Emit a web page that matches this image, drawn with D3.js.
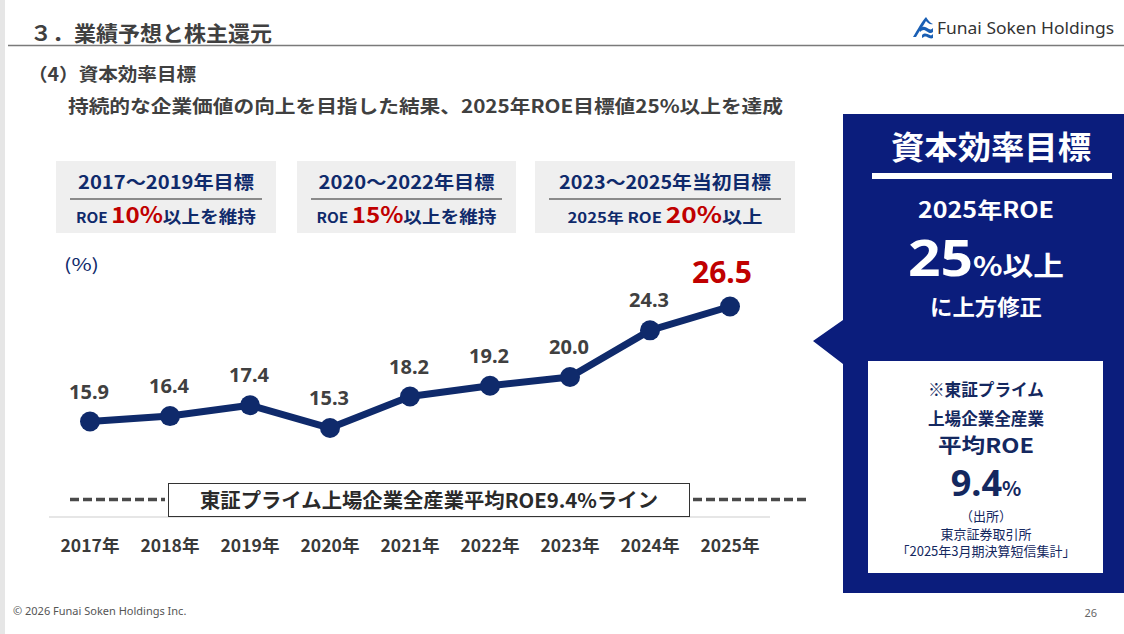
<!DOCTYPE html>
<html><head><meta charset="utf-8">
<script src="https://cdn.jsdelivr.net/npm/d3@7/dist/d3.min.js"></script>
<style>
html,body{margin:0;padding:0;background:#fff;}
svg{display:block;font-family:"Noto Sans CJK JP","Noto Sans",sans-serif;}
</style></head><body>
<svg id="c" width="1124" height="634"></svg>
<script>
// ---- data ----
const years = ["2017年","2018年","2019年","2020年","2021年","2022年","2023年","2024年","2025年"];
const roe = [15.9,16.4,17.4,15.3,18.2,19.2,20.0,24.3,26.5];
const avgRoe = 9.4;
const targetTitles = ["2017～2019年目標","2020～2022年目標","2023～2025年当初目標"];
const targetPrefix = ["ROE ","ROE ","2025年  ROE "];
const targetValues = ["10%","15%","20%"];
const targetSuffix = ["以上を維持","以上を維持","以上"];

const svg = d3.select("#c");
const NAVY = "#0f2a6b", PANEL = "#0b1d7c", RED = "#c00000", DARK = "#404040", BOXNAVY = "#14285f";

function txt(g, o){
  const t = g.append("text").attr("x",o.x).attr("y",o.y).attr("font-size",o.s)
    .attr("font-weight",o.w||700).attr("fill",o.c||DARK).attr("text-anchor",o.a||"start").text(o.t);
  if(o.len){ t.attr("textLength",o.len).attr("lengthAdjust","spacingAndGlyphs"); }
  if(o.f){ t.attr("font-family",o.f); }
  return t;
}

// left strip
svg.append("rect").attr("x",0).attr("y",0).attr("width",5).attr("height",634).attr("fill","#e6e6e6");

// header
txt(svg,{x:30,y:41,s:21,t:"３．業績予想と株主還元",len:242});
svg.append("line").attr("x1",8).attr("x2",1124).attr("y1",45.5).attr("y2",45.5).attr("stroke","#7a7a7a").attr("stroke-width",1.6);

// logo
const lg = svg.append("g").attr("transform","translate(913,16)");
lg.append("path").attr("d","M0,21 C5,13 9,5 13,1 C15,4 17,7 20,8 C17,9 15,7 13,5 C10,10 6,16 3,21 Z").attr("fill","#1a5fb4");
lg.append("path").attr("d","M7,13 C10,9 13,11 16,13 C18,14 19,13 20,12 L20,16 C18,18 16,17 13,15 C11,13 9,14 7,16 Z").attr("fill","#1a5fb4");
lg.append("path").attr("d","M9,19 C12,16 14,18 17,19 C18,20 19,19 20,18 L20,22 C18,23 16,22 14,21 C12,20 11,21 9,22 Z").attr("fill","#1a5fb4");
txt(svg,{x:937,y:34,s:17,w:400,c:"#333",t:"Funai Soken Holdings",len:177,f:"'Noto Sans',sans-serif"});

// subtitle
txt(svg,{x:28,y:81,s:18,t:"（4）資本効率目標",len:168});
txt(svg,{x:68,y:113,s:18,t:"持続的な企業価値の向上を目指した結果、2025年ROE目標値25%以上を達成",len:715});

// target boxes
const boxes = [{x:56,w:220,tl:176,l2:180},{x:297,w:219,tl:176,l2:180},{x:535,w:260,tl:212,l2:195}];
boxes.forEach((b,i)=>{
  const g = svg.append("g");
  g.append("rect").attr("x",b.x).attr("y",161).attr("width",b.w).attr("height",72).attr("fill","#efefef");
  txt(g,{x:b.x+b.w/2,y:189,s:18,a:"middle",c:NAVY,t:targetTitles[i],len:b.tl});
  g.append("line").attr("x1",b.x+14).attr("x2",b.x+b.w-14).attr("y1",199).attr("y2",199).attr("stroke","#8a8a8a").attr("stroke-width",2);
  const t = g.append("text").attr("x",b.x+b.w/2).attr("y",223).attr("text-anchor","middle").attr("font-weight",700).attr("fill",NAVY)
    .attr("textLength",b.l2).attr("lengthAdjust","spacingAndGlyphs");
  t.append("tspan").attr("font-size",14).text(targetPrefix[i]);
  t.append("tspan").attr("font-size",22).attr("fill",RED).text(targetValues[i]);
  t.append("tspan").attr("font-size",17).text(targetSuffix[i]);
});

// chart scales
const x = d3.scalePoint().domain(years).range([90,730]);
const y = d3.scaleLinear().domain([15.9,26.5]).range([421.5,306.5]);
const baseY = 517;

txt(svg,{x:64,y:271,s:17,w:400,c:NAVY,t:"(%)",len:35});

// baseline
svg.append("line").attr("x1",49).attr("x2",770).attr("y1",baseY).attr("y2",baseY).attr("stroke","#e6e6e6").attr("stroke-width",2);

// x axis labels
svg.selectAll(".xl").data(years).enter().append("text")
  .attr("x",d=>x(d)).attr("y",552).attr("text-anchor","middle")
  .attr("font-size",17).attr("font-weight",700).attr("fill","#3a3a3a")
  .attr("textLength",59).attr("lengthAdjust","spacingAndGlyphs").text(d=>d);

// avg line (dashed), drawn relative to the axis baseline
const avgY = baseY - 17.5;
svg.append("line").attr("x1",70).attr("x2",165).attr("y1",avgY).attr("y2",avgY)
  .attr("stroke","#4a4a4a").attr("stroke-width",3.5).attr("stroke-dasharray","9,4");
svg.append("line").attr("x1",693).attr("x2",806).attr("y1",avgY).attr("y2",avgY)
  .attr("stroke","#4a4a4a").attr("stroke-width",3.5).attr("stroke-dasharray","9,4");
svg.append("rect").attr("x",168.5).attr("y",483.5).attr("width",521).attr("height",33).attr("fill","#fff").attr("stroke","#333").attr("stroke-width",1);
txt(svg,{x:429,y:508,s:20,a:"middle",c:"#2a2a2a",t:"東証プライム上場企業全産業平均ROE" + avgRoe.toFixed(1) + "%ライン",len:458});

// line
const pts = years.map((d,i)=>({k:d,v:roe[i]}));
svg.append("path").datum(pts)
  .attr("d",d3.line().x(d=>x(d.k)).y(d=>y(d.v)))
  .attr("fill","none").attr("stroke",NAVY).attr("stroke-width",7).attr("stroke-linejoin","round");
svg.selectAll(".dot").data(pts).enter().append("circle")
  .attr("cx",d=>x(d.k)).attr("cy",d=>y(d.v)).attr("r",10).attr("fill",NAVY);

// value labels
svg.selectAll(".vl").data(pts).enter().append("text")
  .attr("x",(d,i)=>x(d.k) + (i===8 ? -8 : -1))
  .attr("y",(d,i)=>y(d.v) - (i===8 ? 24 : 23))
  .attr("text-anchor","middle")
  .attr("font-size",(d,i)=>i===8?30:20).attr("font-weight",700)
  .attr("fill",(d,i)=>i===8?RED:DARK)
  .attr("font-family","'Noto Sans',sans-serif")
  .text(d=>d.v.toFixed(1));

// right panel
svg.append("path").attr("d","M843,114 L1124,114 L1124,593 L843,593 L843,364 L813,341 L843,320 Z").attr("fill",PANEL);
txt(svg,{x:991,y:159,s:32,a:"middle",c:"#fff",t:"資本効率目標",len:200});
svg.append("rect").attr("x",872).attr("y",173).attr("width",240).attr("height",6).attr("fill","#fff");
txt(svg,{x:986,y:218,s:22,a:"middle",c:"#fff",t:"2025年ROE",len:136});
const big = svg.append("text").attr("x",986).attr("y",276).attr("text-anchor","middle").attr("font-weight",700).attr("fill","#fff")
  .attr("textLength",156).attr("lengthAdjust","spacingAndGlyphs");
big.append("tspan").attr("font-size",50).attr("font-family","'Noto Sans',sans-serif").text("25");
big.append("tspan").attr("font-size",27).text("%以上");
txt(svg,{x:986,y:315,s:22,a:"middle",c:"#fff",t:"に上方修正",len:112});

svg.append("rect").attr("x",868).attr("y",361).attr("width",235).attr("height",212).attr("fill","#fff");
const boxText = [
  {t:"※東証プライム",y:396,s:17,l:116},
  {t:"上場企業全産業",y:425,s:17,l:116},
  {t:"平均ROE",y:453,s:20,l:96}
];
boxText.forEach(d=>txt(svg,{x:986,y:d.y,s:d.s,a:"middle",c:BOXNAVY,t:d.t,len:d.l}));
const nine = svg.append("text").attr("x",986).attr("y",496).attr("text-anchor","middle").attr("font-weight",700).attr("fill",BOXNAVY);
nine.append("tspan").attr("font-size",36).attr("font-family","'Noto Sans',sans-serif").text(avgRoe.toFixed(1));
nine.append("tspan").attr("font-size",20).text("%");
const src = [{t:"（出所）",y:521},{t:"東京証券取引所",y:539},{t:"「2025年3月期決算短信集計」",y:556}];
src.forEach(d=>txt(svg,{x:986,y:d.y,s:13,w:400,a:"middle",c:BOXNAVY,t:d.t}));

// footer
txt(svg,{x:13,y:615,s:11,w:400,c:"#555",t:"© 2026 Funai Soken Holdings Inc.",f:"'Noto Sans',sans-serif"});
txt(svg,{x:1097,y:617,s:11,w:400,a:"end",c:"#666",t:"26",f:"'Noto Sans',sans-serif"});
</script>
</body></html>
